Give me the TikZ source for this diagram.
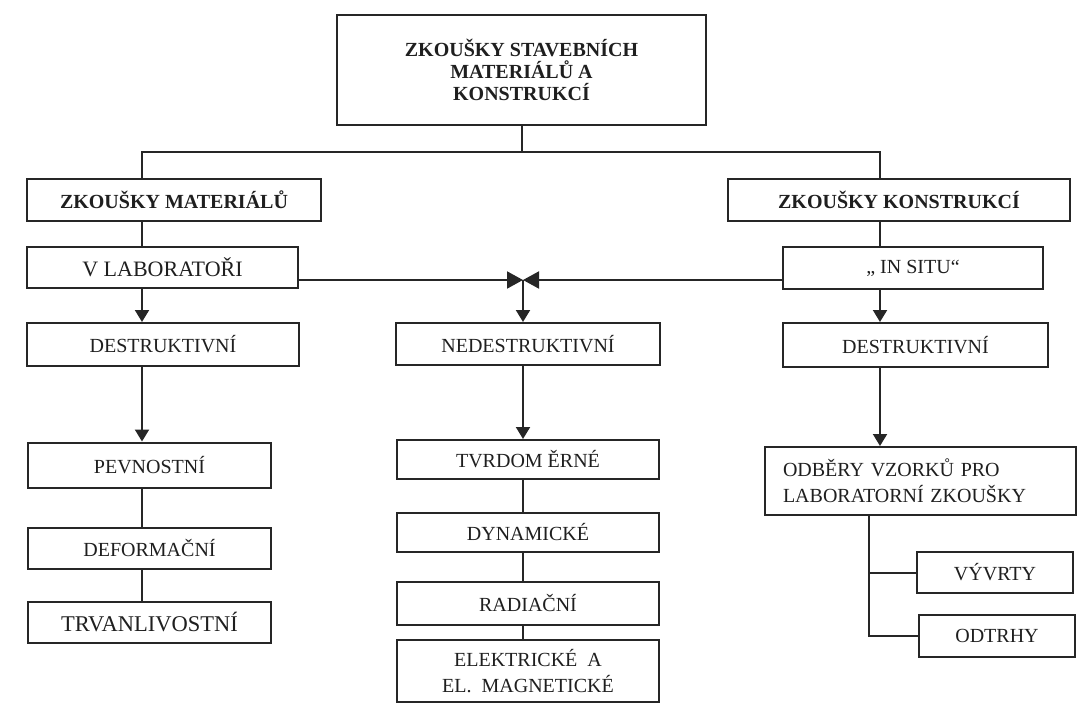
\documentclass[tikz,border=0pt]{standalone}
\usepackage{fontspec}
\setmainfont{Liberation Serif}
\usetikzlibrary{arrows.meta,positioning,calc}

\begin{document}
\begin{tikzpicture}[x=1pt, y=-1pt, >={Triangle[length=12pt,width=14pt]},
    box/.style={draw=black!85, line width=2pt, fill=white, text=black!88,
        inner sep=0pt, align=center, font=\fontsize{20}{26}\selectfont},
    bbox/.style={box, font=\bfseries\fontsize{20}{22}\selectfont},
    wire/.style={draw=black!85, line width=2pt},
    bow/.style={wire, -{Triangle[length=16pt,width=17pt]}}]
        \useasboundingbox (0,0) rectangle (1078,714);

        % Top box
        \node[bbox, minimum width=369pt, minimum height=110pt] (top) at (521.5,70)
            {ZKOUŠKY STAVEBNÍCH\\MATERIÁLŮ A\\KONSTRUKCÍ};

        % Second level
        \node[bbox, minimum width=294pt, minimum height=42pt] (zm) at (174,200) {ZKOUŠKY MATERIÁLŮ};
        \node[bbox, minimum width=342pt, minimum height=42pt] (zk) at (899,200) {ZKOUŠKY KONSTRUKCÍ};

        % Left column
        \node[box, minimum width=271pt, minimum height=41pt, font=\fontsize{22}{26}\selectfont]
            (lab) at (162.5,267.5) {V LABORATOŘI};
        \node[box, minimum width=272pt, minimum height=43pt] (destL) at (163,344.5) {DESTRUKTIVNÍ};
        \node[box, minimum width=243pt, minimum height=45pt] (pev) at (149.5,465) {PEVNOSTNÍ};
        \node[box, minimum width=243pt, minimum height=41pt] (def) at (149.5,548.5) {DEFORMAČNÍ};
        \node[box, minimum width=243pt, minimum height=41pt, font=\fontsize{22.5}{26}\selectfont]
            (trv) at (149.5,622.5) {TRVANLIVOSTNÍ};

        % Middle column
        \node[box, minimum width=264pt, minimum height=42pt] (nedest) at (528,344) {NEDESTRUKTIVNÍ};
        \node[box, minimum width=262pt, minimum height=39pt] (tvrd) at (528,459.5) {TVRDOM ĚRNÉ};
        \node[box, minimum width=262pt, minimum height=39pt] (dyn) at (528,532.5) {DYNAMICKÉ};
        \node[box, minimum width=262pt, minimum height=43pt] (rad) at (528,603.5) {RADIAČNÍ};
        \node[box, minimum width=262pt, minimum height=62pt] (elek) at (528,671) {ELEKTRICKÉ\ \ A\\EL.\ \ MAGNETICKÉ};

        % Right column
        \node[box, minimum width=260pt, minimum height=42pt] (situ) at (913,268) {„ IN SITU“};
        \node[box, minimum width=265pt, minimum height=44pt] (destR) at (915.5,345) {DESTRUKTIVNÍ};
        \node[box, minimum width=311pt, minimum height=68pt, align=left, text width=275pt]
            (odb) at (920.5,481) {ODBĚRY VZORKŮ PRO\\LABORATORNÍ ZKOUŠKY};
        \node[box, minimum width=156pt, minimum height=41pt] (vyv) at (995,572.5) {VÝVRTY};
        \node[box, minimum width=156pt, minimum height=42pt] (odt) at (997,636) {ODTRHY};

        % Spines
        \coordinate (spineL) at (142,0);
        \coordinate (spineR) at (880,0);
        \coordinate (spineO) at (869,0);
        \coordinate (meet) at (523,280);

        % Top split
        \draw[wire] (top.south) -- ++(0,26) coordinate (hub);
        \draw[wire] (hub) -| (zm.north -| spineL);
        \draw[wire] (hub) -| (zk.north -| spineR);

        % Left links
        \draw[wire] (zm.south -| spineL) -- (lab.north -| spineL);
        \draw[wire, ->] (lab.south -| spineL) -- (destL.north -| spineL);
        \draw[wire, ->] (destL.south -| spineL) -- (pev.north -| spineL);
        \draw[wire] (pev.south -| spineL) -- (def.north -| spineL);
        \draw[wire] (def.south -| spineL) -- (trv.north -| spineL);

        % Both ways to the middle
        \draw[bow] (lab.east |- meet) -- (meet);
        \draw[bow] (situ.west |- meet) -- (meet);
        \draw[wire, ->] (meet) -- (nedest.north -| meet);

        % Middle links
        \draw[wire, ->] (nedest.south -| meet) -- (tvrd.north -| meet);
        \draw[wire] (tvrd.south -| meet) -- (dyn.north -| meet);
        \draw[wire] (dyn.south -| meet) -- (rad.north -| meet);
        \draw[wire] (rad.south -| meet) -- (elek.north -| meet);

        % Right links
        \draw[wire] (zk.south -| spineR) -- (situ.north -| spineR);
        \draw[wire, ->] (situ.south -| spineR) -- (destR.north -| spineR);
        \draw[wire, ->] (destR.south -| spineR) -- (odb.north -| spineR);
        \draw[wire] (odb.south -| spineO) |- (odt.west);
        \draw[wire] (vyv.west -| spineO) -- (vyv.west);

    \end{tikzpicture}
\end{document}
